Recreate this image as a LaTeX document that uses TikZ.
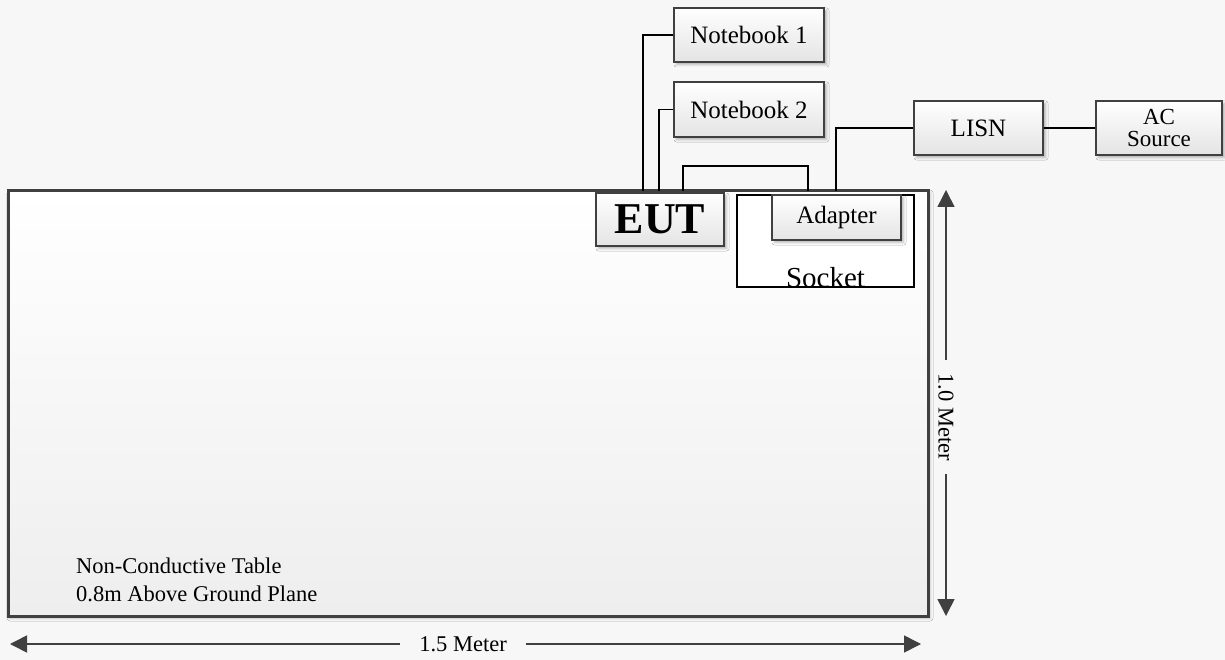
\documentclass[tikz,border=0pt]{standalone}
\usepackage{fontspec}
\setmainfont{Liberation Serif}
\usetikzlibrary{arrows.meta,shadows.blur}
\definecolor{bg}{HTML}{F7F7F7}
\definecolor{edge}{HTML}{404040}
\definecolor{boxbot}{HTML}{E4E4E4}
\definecolor{tablebot}{HTML}{EEEEEE}

\begin{document}
\begin{tikzpicture}[x=1pt,y=-1pt,
  unit/.style={draw=edge, line width=1.2pt, rectangle, inner sep=0pt,
    top color=white, bottom color=boxbot,
    blur shadow={shadow xshift=2.5pt, shadow yshift=-2.5pt,
      shadow blur radius=2.5pt, shadow opacity=30},
    font=\fontsize{25}{30}\selectfont, align=center},
  wire/.style={line width=1.3pt, draw=black},
  dimline/.style={line width=1.6pt, draw=edge,
    -{Triangle[length=17pt,width=17pt]}},
  dimlabel/.style={font=\fontsize{22.5}{27}\selectfont, inner ysep=0pt},
  tabletext/.style={font=\fontsize{22.5}{27}\selectfont, anchor=base west, inner sep=0pt},
]
% page background
\fill[bg] (0,0) rectangle (1225,660);
\useasboundingbox (0,0) rectangle (1225,660);

% non-conductive table
\node[draw=edge, line width=3pt, rectangle, inner sep=0pt,
      top color=white, bottom color=tablebot,
      minimum width=920pt, minimum height=425pt,
      blur shadow={shadow xshift=2pt, shadow yshift=-2pt,
        shadow blur radius=3pt, shadow opacity=20}]
      (table) at (468,403.5) {};
\node[tabletext] (tbl1) at (76,573) {Non-Conductive Table};
\node[tabletext] (tbl2) at (76,601) {0.8m Above Ground Plane};

% socket with adapter
\node[draw=black, line width=1.3pt, fill=white, rectangle, inner sep=0pt,
      minimum width=177pt, minimum height=92pt] (socket) at (825.5,241) {};
\node[font=\fontsize{29}{34}\selectfont, anchor=base, inner sep=0pt]
      (socketlbl) at (825.5,287) {Socket};
\node[unit, minimum width=129pt, minimum height=45pt] (adapter) at (836.5,217.5) {Adapter};

% equipment boxes
\node[unit, minimum width=150pt, minimum height=54pt] (nb1) at (749,35) {Notebook 1};
\node[unit, minimum width=150pt, minimum height=55pt] (nb2) at (749,109.5) {Notebook 2};
\node[unit, minimum width=129pt, minimum height=54pt, font=\fontsize{25}{30}\selectfont] (lisn) at (978.5,128) {LISN};
\node[unit, minimum width=126pt, minimum height=54pt, font=\fontsize{23}{22}\selectfont] (ac) at (1159,128) {AC\\Source};

% cable entry points on the table edge
\coordinate (eutA) at (643,191);
\coordinate (eutB) at (659,191);
\coordinate (eutC) at (683,191);
\coordinate (adpA) at (808,191);
\coordinate (adpB) at (836,191);

% cables
\draw[wire] (nb1.west) -| (eutA);
\draw[wire] (nb2.west) -| (eutB);
\draw[wire] (eutC) -- ++(0,-25) -| (adpA);
\draw[wire] (adpB) |- (lisn.west);
\draw[wire] (lisn.east) -- (ac.west);

% equipment under test
\node[unit, minimum width=128pt, minimum height=53pt,
      font=\fontsize{44}{50}\selectfont\bfseries] (eut) at (660,219.5) {EUT};

% dimensions
\node[dimlabel, inner xsep=19pt] (hdim) at (463,644) {1.5 Meter};
\coordinate (hL) at (10,644);
\coordinate (hR) at (921,644);
\draw[dimline] (hdim.west) -- (hL);
\draw[dimline] (hdim.east) -- (hR);

\node[dimlabel, inner xsep=13pt, rotate=-90] (vdim) at (946,417) {1.0 Meter};
\coordinate (vT) at (946,190);
\coordinate (vB) at (946,616);
\draw[dimline] (vdim.west) -- (vT);
\draw[dimline] (vdim.east) -- (vB);
\end{tikzpicture}
\end{document}
